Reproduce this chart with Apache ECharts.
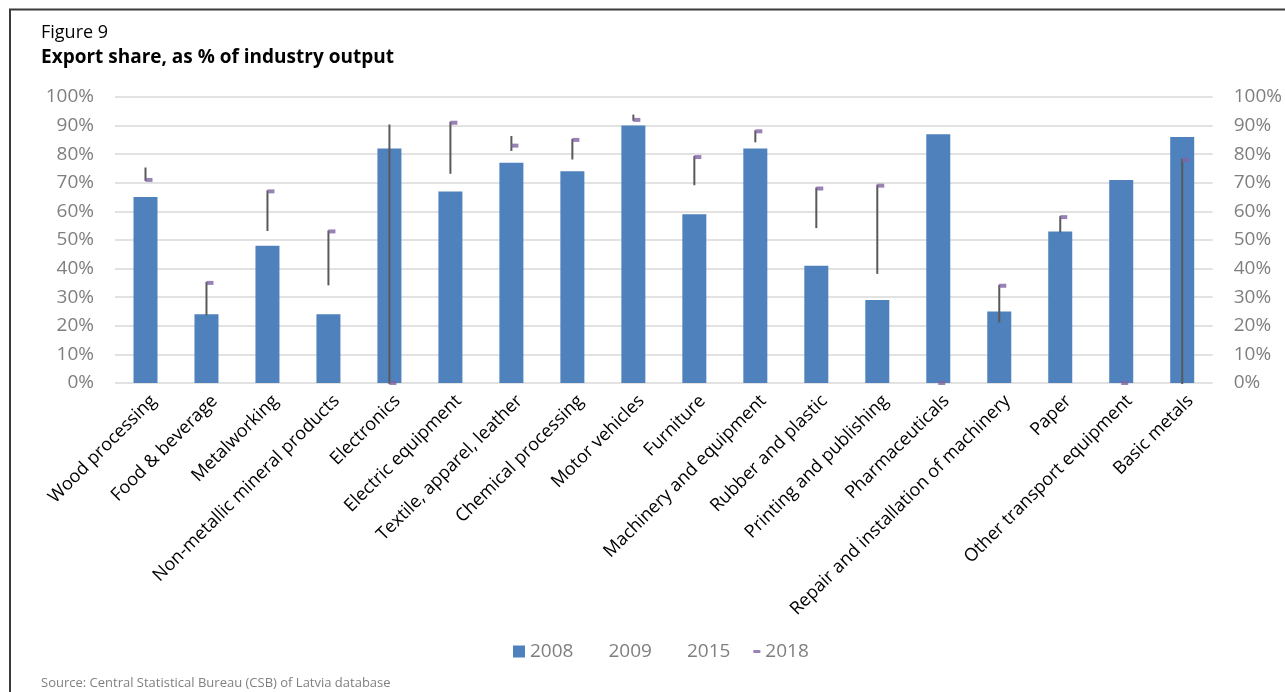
<!DOCTYPE html>
<html>
<head>
<meta charset="utf-8">
<title>Export share, as % of industry output</title>
<script src="https://cdn.jsdelivr.net/npm/echarts@6/dist/echarts.min.js"></script>
<style>
  html, body { margin: 0; padding: 0; background: #ffffff; }
  #chart { width: 1285px; height: 692px; }
</style>
</head>
<body>
<div id="chart"></div>
<script>
// Industries, in drawing order
const categories = [
  'Wood processing', 'Food & beverage', 'Metalworking', 'Non-metallic mineral products',
  'Electronics', 'Electric equipment', 'Textile, apparel, leather', 'Chemical processing',
  'Motor vehicles', 'Furniture', 'Machinery and equipment', 'Rubber and plastic',
  'Printing and publishing', 'Pharmaceuticals', 'Repair and installation of machinery',
  'Paper', 'Other transport equipment', 'Basic metals'
];

// Export share, % of output
const share2008 = [65, 24, 48, 24, 82, 67, 77, 74, 90, 59, 82, 41, 29, 87, 25, 53, 71, 86];
const share2009 = [75, 24, 53.5, 34.5, 90, 73.5, 81.5, 78.5, 93.5, 69.5, 84.5, 54.5, 38.5, 0, 21.5, 53, 0, 72];
const share2015 = [73, 30, 60, 45, 85, 85, 86, 82, 93, 75, 86, 62, 60, 0, 28, 55, 0, 0];
const share2018 = [71, 35, 67, 53, 0, 91, 83, 85, 92, 79, 88, 68, 69, 0, 34, 58, 0, 78];

// Axis ticks
const yMin = 0;
const yMax = 100;
const yStep = 10;

// Low/high span of the three line years, one entry per industry
const rangeData = categories.map((_, i) => {
  const v = [share2009[i], share2015[i], share2018[i]];
  return [i, Math.min(...v), Math.max(...v)];
});

const FONT = '"Open Sans", "Noto Sans", sans-serif';
const GREY = '#7f7f7f';

const chart = echarts.init(document.getElementById('chart'), null, { renderer: 'canvas' });

const pctAxis = (pos, showGrid) => ({
  type: 'value',
  position: pos,
  min: yMin,
  max: yMax,
  interval: yStep,
  axisLine: { show: false },
  axisTick: { show: false },
  splitLine: { show: showGrid, lineStyle: { color: '#d9d9d9', width: 1.5 } },
  axisLabel: {
    formatter: '{value}%',
    color: GREY,
    fontFamily: FONT,
    fontSize: 19,
    margin: 21
  }
});

chart.setOption({
  animation: false,
  backgroundColor: '#ffffff',
  title: [
    {
      text: 'Figure 9',
      left: 41,
      top: 24,
      padding: 0,
      textStyle: { fontFamily: FONT, fontSize: 18, fontWeight: 'normal', color: '#000000' }
    },
    {
      text: 'Export share, as % of industry output',
      left: 41,
      top: 48,
      padding: 0,
      textStyle: { fontFamily: FONT, fontSize: 19, fontWeight: 'bold', color: '#000000' }
    },
    {
      text: 'Source: Central Statistical Bureau (CSB) of Latvia database',
      left: 41,
      top: 677,
      padding: 0,
      textStyle: { fontFamily: FONT, fontSize: 13, fontWeight: 'normal', color: '#808080' }
    }
  ],
  graphic: [
    {
      type: 'polyline',
      shape: { points: [[10, 692], [10, 9.5], [1285, 9.5]] },
      style: { stroke: '#3a3a3a', lineWidth: 2, fill: null },
      silent: true
    }
  ],
  legend: {
    left: 513,
    top: 642,
    padding: 0,
    itemWidth: 12,
    itemHeight: 12,
    itemGap: 18,
    textStyle: { color: GREY, fontFamily: FONT, fontSize: 19 },
    selectedMode: false,
    data: [
      { name: '2008', icon: 'rect' },
      { name: '2009', icon: 'rect', itemStyle: { opacity: 0 } },
      { name: '2015', icon: 'rect', itemStyle: { opacity: 0 } },
      { name: '2018', icon: 'path://M0,0M12,12M5,4.5h7v3h-7z' }
    ]
  },
  grid: { left: 115, right: 70, top: 97, bottom: 309, containLabel: false },
  xAxis: {
    type: 'category',
    data: categories,
    axisLine: { show: false },
    axisTick: { show: false },
    axisLabel: {
      interval: 0,
      rotate: 45,
      margin: 7,
      align: 'right',
      verticalAlign: 'top',
      lineHeight: 23,
      color: '#000000',
      fontFamily: FONT,
      fontSize: 18
    }
  },
  yAxis: [pctAxis('left', true), pctAxis('right', false)],
  series: [
    {
      name: '2008',
      type: 'bar',
      data: share2008,
      barWidth: 24,
      itemStyle: { color: '#4f81bd' },
      z: 2
    },
    {
      name: '2009',
      type: 'line',
      data: share2009,
      symbol: 'none',
      lineStyle: { opacity: 0 },
      itemStyle: { color: '#a5a5a5' },
      silent: true
    },
    {
      name: '2015',
      type: 'line',
      data: share2015,
      symbol: 'none',
      lineStyle: { opacity: 0 },
      itemStyle: { color: '#9bbb59' },
      silent: true
    },
    {
      name: 'range',
      type: 'custom',
      data: rangeData,
      encode: { x: 0, y: [1, 2] },
      z: 4,
      silent: true,
      renderItem: (params, api) => {
        const i = api.value(0);
        const lo = api.coord([i, api.value(1)]);
        const hi = api.coord([i, api.value(2)]);
        if (Math.abs(lo[1] - hi[1]) < 0.5) return null;
        return {
          type: 'line',
          shape: { x1: lo[0], y1: lo[1], x2: hi[0], y2: hi[1] },
          style: { stroke: '#595959', lineWidth: 2, lineCap: 'square' }
        };
      }
    },
    {
      name: '2018',
      type: 'scatter',
      data: share2018,
      symbol: 'rect',
      symbolSize: [7, 4],
      symbolOffset: [3.5, 0],
      itemStyle: { color: '#8064a2' },
      z: 5
    }
  ]
});
</script>
</body>
</html>
